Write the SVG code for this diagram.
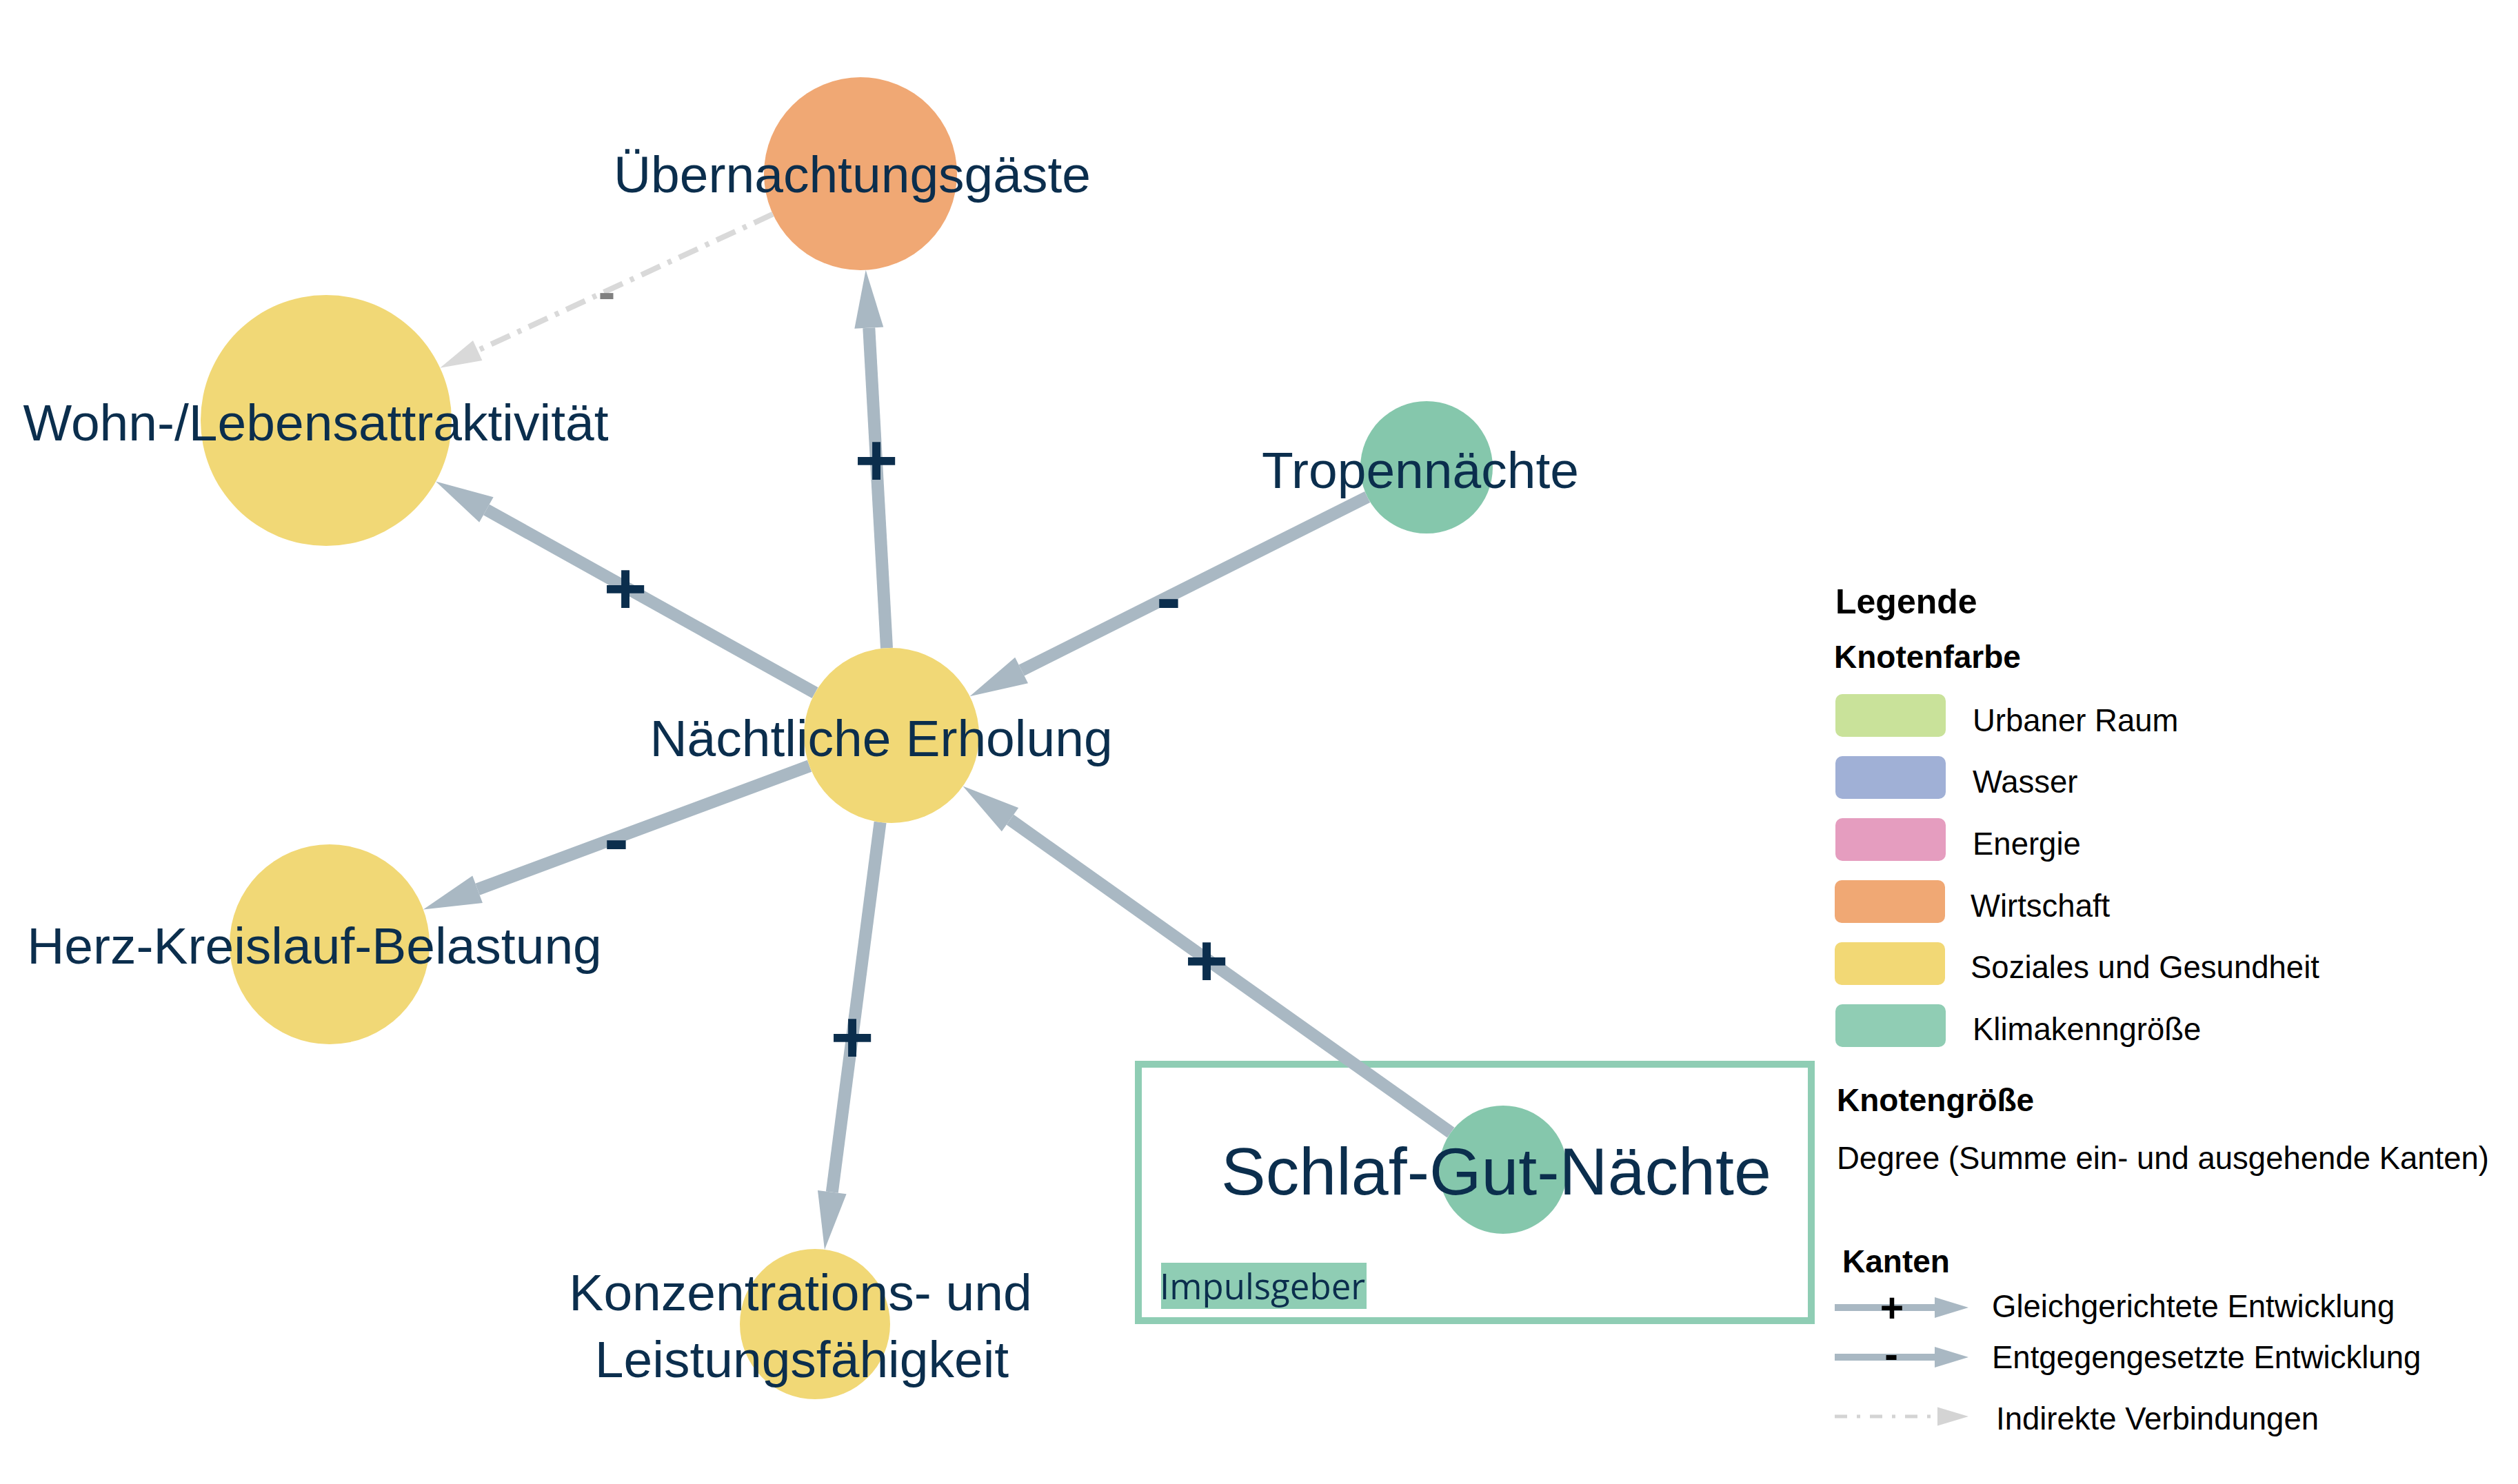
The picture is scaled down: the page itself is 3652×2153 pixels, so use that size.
<svg xmlns="http://www.w3.org/2000/svg" width="3652" height="2153" viewBox="0 0 3652 2153">
<defs>
<style>
.lbl{font-family:"Liberation Sans",Arial,sans-serif;font-size:75px;fill:#0b2e4d;text-anchor:middle}
.big{font-size:97px}
.sign{font-family:"Liberation Sans",Arial,sans-serif;font-size:108px;font-weight:bold;fill:#0b2e4d;text-anchor:middle}
.signg{font-family:"Liberation Sans",Arial,sans-serif;font-size:75px;font-weight:bold;fill:#808080;text-anchor:middle}
.edge{stroke:#a9b8c3;stroke-width:18;fill:none;marker-end:url(#arr)}
.dedge{stroke:#d9d9d9;stroke-width:8;fill:none;stroke-dasharray:30 12 6 12;marker-end:url(#darr)}
.lt{font-family:"Liberation Sans",Arial,sans-serif;font-size:45.5px;fill:#000}
.lh{font-family:"Liberation Sans",Arial,sans-serif;font-size:46px;font-weight:bold;fill:#000}
.lsign{font-family:"Liberation Sans",Arial,sans-serif;font-size:59px;font-weight:bold;fill:#000;text-anchor:middle}
.sw{rx:10;ry:10}
.yel{fill:#f1d876}
.ora{fill:#f0a874}
.grn{fill:#85c7ac}
</style>
<marker id="arr" markerUnits="userSpaceOnUse" markerWidth="84" markerHeight="42" refX="0" refY="21" orient="auto" overflow="visible">
<path d="M0,0 L84,21 L0,42 Z" fill="#a9b8c3"/>
</marker>
<marker id="darr" markerUnits="userSpaceOnUse" markerWidth="60" markerHeight="32" refX="0" refY="16" orient="auto" overflow="visible">
<path d="M0,0 L60,16 L0,32 Z" fill="#d9d9d9"/>
</marker>
<marker id="larr" markerUnits="userSpaceOnUse" markerWidth="49" markerHeight="30" refX="0" refY="15" orient="auto" overflow="visible">
<path d="M0,0 L49,15 L0,30 Z" fill="#a9b8c3"/>
</marker>
<marker id="ldarr" markerUnits="userSpaceOnUse" markerWidth="45" markerHeight="27" refX="0" refY="13.5" orient="auto" overflow="visible">
<path d="M0,0 L45,13.5 L0,27 Z" fill="#d4d4d4"/>
</marker>
</defs>
<rect width="3652" height="2153" fill="#ffffff"/>

<g id="impulse-box">
<rect x="1651" y="1544" width="976" height="372" fill="none" stroke="#8fcdb4" stroke-width="10"/>
<rect x="1684" y="1832" width="298" height="67" fill="#8fcdb4"/>
<text x="1682" y="1885" font-family="'Open Sans','Noto Sans',sans-serif" font-size="51" fill="#0b2e4d">Impulsgeber</text>
</g>

<g id="connectors">
<line class="edge" x1="1286" y1="940.2" x2="1260.3" y2="475.7"/>
<line class="edge" x1="1182.1" y1="1005.2" x2="705.4" y2="739.5"/>
<line class="edge" x1="1983.2" y1="721" x2="1481.6" y2="972.5"/>
<line class="edge" x1="1174" y1="1111.3" x2="692.6" y2="1290.2"/>
<line class="edge" x1="1276.6" y1="1192.9" x2="1206.8" y2="1729.6"/>
<line class="edge" x1="2104.2" y1="1643.2" x2="1465" y2="1189.1"/>
<line class="dedge" x1="1120.9" y1="310.7" x2="692.7" y2="508.5"/>
<text class="sign" x="1271" y="704">+</text>
<text class="sign" x="907" y="890">+</text>
<text class="sign" x="1695" y="904">-</text>
<text class="sign" x="894" y="1254">-</text>
<text class="sign" x="1236" y="1541">+</text>
<text class="sign" x="1750" y="1430">+</text>
<text class="signg" x="880" y="449">-</text>
</g>

<g id="node-uebernachtungsgaeste">
<circle class="ora" cx="1248" cy="252" r="140"/>
<text class="lbl" x="1236" y="279">Übernachtungsgäste</text>
</g>
<g id="node-wohn">
<circle class="yel" cx="473" cy="610" r="182"/>
<text class="lbl" x="458" y="639">Wohn-/Lebensattraktivität</text>
</g>
<g id="node-tropennaechte">
<circle class="grn" cx="2069" cy="678" r="96"/>
<text class="lbl" x="2060" y="708">Tropennächte</text>
</g>
<g id="node-naechtliche-erholung">
<circle class="yel" cx="1293" cy="1067" r="127"/>
<text class="lbl" x="1278" y="1097">Nächtliche Erholung</text>
</g>
<g id="node-herz">
<circle class="yel" cx="478" cy="1370" r="145"/>
<text class="lbl" x="456" y="1398">Herz-Kreislauf-Belastung</text>
</g>
<g id="node-konzentration">
<circle class="yel" cx="1182" cy="1921" r="109"/>
<text class="lbl" x="1161" y="1901">Konzentrations- und</text>
<text class="lbl" x="1163" y="1998">Leistungsfähigkeit</text>
</g>
<g id="node-schlaf-gut-naechte">
<circle class="grn" cx="2180" cy="1697" r="93"/>
<text class="lbl big" x="2170" y="1733">Schlaf-Gut-Nächte</text>
</g>

<g id="legend">
<text x="2662" y="890" font-family="'Liberation Sans',Arial,sans-serif" font-size="50" font-weight="bold" fill="#000">Legende</text>
<text class="lh" x="2660" y="969">Knotenfarbe</text>
<rect class="sw" x="2662" y="1007" width="160" height="62" fill="#c9e29a"/>
<rect class="sw" x="2662" y="1097" width="160" height="62" fill="#a0b0d6"/>
<rect class="sw" x="2662" y="1187" width="160" height="62" fill="#e59dbf"/>
<rect class="sw" x="2661" y="1277" width="160" height="62" fill="#f0a874"/>
<rect class="sw" x="2661" y="1367" width="160" height="62" fill="#f2d875"/>
<rect class="sw" x="2662" y="1457" width="160" height="62" fill="#90cdb4"/>
<text class="lt" x="2861" y="1061">Urbaner Raum</text>
<text class="lt" x="2861" y="1150">Wasser</text>
<text class="lt" x="2861" y="1240">Energie</text>
<text class="lt" x="2858" y="1330">Wirtschaft</text>
<text class="lt" x="2858" y="1419">Soziales und Gesundheit</text>
<text class="lt" x="2861" y="1509">Klimakenngröße</text>
<text class="lh" x="2664" y="1612">Knotengröße</text>
<text class="lt" x="2664" y="1696">Degree (Summe ein- und ausgehende Kanten)</text>
<text class="lh" x="2672" y="1846">Kanten</text>
<line x1="2661" y1="1897" x2="2806" y2="1897" stroke="#a9b8c3" stroke-width="10" marker-end="url(#larr)"/>
<text class="lsign" x="2744" y="1918">+</text>
<text class="lt" x="2889" y="1911">Gleichgerichtete Entwicklung</text>
<line x1="2661" y1="1969" x2="2806" y2="1969" stroke="#a9b8c3" stroke-width="10" marker-end="url(#larr)"/>
<text class="lsign" x="2743" y="1985">-</text>
<text class="lt" x="2889" y="1985">Entgegengesetzte Entwicklung</text>
<line x1="2661" y1="2055" x2="2810" y2="2055" stroke="#d4d4d4" stroke-width="5" stroke-dasharray="18 14 5 14" marker-end="url(#ldarr)"/>
<text class="lt" x="2895" y="2074">Indirekte Verbindungen</text>
</g>
</svg>
